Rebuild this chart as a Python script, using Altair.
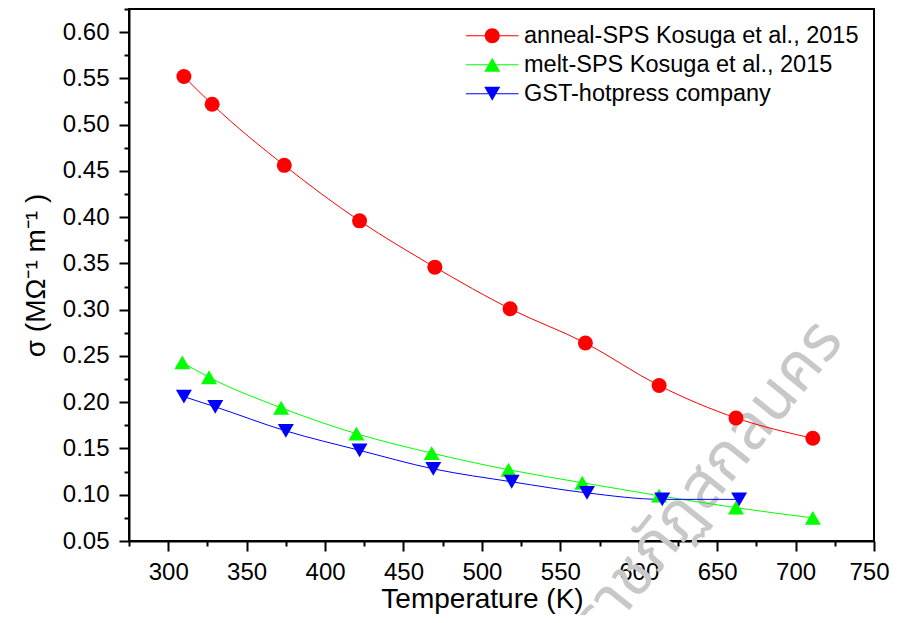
import altair as alt
import pandas as pd

# ---------------- data ----------------
series_names = [
    "anneal-SPS Kosuga et al., 2015",
    "melt-SPS Kosuga et al., 2015",
    "GST-hotpress company",
]
series_colors = ["#FF0000", "#00FF00", "#0000FF"]

anneal_T = [310, 328, 374, 422, 470, 518, 566, 613, 662, 711]
anneal_sigma = [0.552, 0.522, 0.456, 0.396, 0.346, 0.301, 0.264, 0.218, 0.183, 0.161]

melt_T = [309, 326, 372, 420, 468, 517, 564, 613, 662, 711]
melt_sigma = [0.243, 0.227, 0.194, 0.166, 0.145, 0.127, 0.113, 0.099, 0.086, 0.075]

gst_T = [310, 330, 375, 422, 469, 519, 567, 615, 664]
gst_sigma = [0.206, 0.195, 0.169, 0.148, 0.128, 0.114, 0.102, 0.095, 0.095]

x_major_ticks = [300, 350, 400, 450, 500, 550, 600, 650, 700, 750]
x_minor_ticks = [275, 325, 375, 425, 475, 525, 575, 625, 675, 725]
y_major_ticks = [0.05, 0.10, 0.15, 0.20, 0.25, 0.30, 0.35, 0.40, 0.45, 0.50, 0.55, 0.60]
y_minor_ticks = [0.075, 0.125, 0.175, 0.225, 0.275, 0.325, 0.375, 0.425, 0.475, 0.525, 0.575, 0.625]

watermark_text = ["มหาวิทยาลัยราชภัฏสกลนคร"]

rows = []
for name, Ts, ss in zip(series_names, [anneal_T, melt_T, gst_T],
                        [anneal_sigma, melt_sigma, gst_sigma]):
    for t, s in zip(Ts, ss):
        rows.append({"series": name, "T": t, "sigma": s})
df = pd.DataFrame(rows)

FONT = "Liberation Sans"

x_scale = alt.Scale(domain=[275, 750], nice=False, zero=False)
y_scale = alt.Scale(domain=[0.05, 0.625], nice=False, zero=False)
color_scale = alt.Scale(domain=series_names, range=series_colors)

# legend glyphs: marker with a line through it (units: 1 = half the symbol size)
legend_paths = [
    "M-3.5,-0.07H-0.95V0.07H-3.5Z M0.95,-0.07H3.5V0.07H0.95Z "
    "M1,0A1,1,0,1,1,-1,0A1,1,0,1,1,1,0Z",
    "M-3.5,-0.07H-0.55V0.07H-3.5Z M0.55,-0.07H3.5V0.07H0.55Z "
    "M0,-0.924L1.067,0.924L-1.067,0.924Z",
    "M-3.5,-0.07H-0.55V0.07H-3.5Z M0.55,-0.07H3.5V0.07H0.55Z "
    "M0,0.924L1.067,-0.924L-1.067,-0.924Z",
]
point_shapes = ["circle", "triangle-up", "triangle-down"]
point_sizes = [225, 256, 256]

x_major = alt.Axis(
    values=x_major_ticks, orient="bottom", title="Temperature (K)", grid=False,
    tickSize=10, tickWidth=2, domainWidth=2, labelFontSize=24, labelFont=FONT,
    labelPadding=9, labelFlush=True, labelFlushOffset=15, titleFont=FONT,
    titleFontSize=28, titleFontWeight="normal", titleX=353, titleY=66,
    titleBaseline="alphabetic", titleAnchor="middle", labelOverlap=False,
)
y_major = alt.Axis(
    values=y_major_ticks, orient="left", title="σ (MΩ⁻¹ m⁻¹ )", grid=False,
    tickSize=10, tickWidth=2, domainWidth=2, labelFontSize=24, labelFont=FONT,
    labelPadding=10, labelFlush=False, format=".2f", titleFont=FONT,
    titleFontSize=28, titleFontWeight="normal", titlePadding=12, labelOverlap=False,
)
x_minor = alt.Axis(
    values=x_minor_ticks, orient="bottom", title=None, grid=False, labels=False,
    domain=False, tickSize=5, tickWidth=2,
)
y_minor = alt.Axis(
    values=y_minor_ticks, orient="left", title=None, grid=False, labels=False,
    domain=False, tickSize=5, tickWidth=2,
)

layers = []
first = True
for name, col, shp, sz in zip(series_names, series_colors, point_shapes, point_sizes):
    base = alt.Chart(df).transform_filter(alt.datum.series == name)
    layers.append(
        base.mark_line(strokeWidth=1, interpolate="monotone", color=col).encode(
            x=alt.X("T:Q", scale=x_scale, axis=x_major if first else None),
            y=alt.Y("sigma:Q", scale=y_scale, axis=y_major if first else None),
        )
    )
    first = False
for name, col, shp, sz in zip(series_names, series_colors, point_shapes, point_sizes):
    base = alt.Chart(df).transform_filter(alt.datum.series == name)
    layers.append(
        base.mark_point(shape=shp, size=sz, filled=True, opacity=1, strokeWidth=0,
                        color=col).encode(
            x=alt.X("T:Q", scale=x_scale, axis=None),
            y=alt.Y("sigma:Q", scale=y_scale, axis=None),
        )
    )

legend_props = dict(
    orient="none", legendX=351.5, legendY=15, title=None, labelFont=FONT,
    labelFontSize=23.5, labelColor="black", symbolSize=225, symbolOpacity=1,
    symbolStrokeWidth=0, labelOffset=20, rowPadding=4, padding=0, labelLimit=0,
)

legend_layer = alt.Chart(df).mark_point(filled=True, opacity=0).encode(
    x=alt.X("T:Q", scale=x_scale, axis=x_minor),
    y=alt.Y("sigma:Q", scale=y_scale, axis=y_minor),
    color=alt.Color("series:N", scale=color_scale, legend=alt.Legend(**legend_props)),
    shape=alt.Shape("series:N", scale=alt.Scale(domain=series_names, range=legend_paths),
                    legend=alt.Legend(**legend_props)),
)

watermark = alt.Chart(pd.DataFrame({"t": watermark_text})).mark_text(
    angle=308.7, align="right", baseline="alphabetic", fontSize=64,
    color="#c8c8c8", font="Noto Sans Thai, Noto Sans, DejaVu Sans",
).encode(text="t:N", x=alt.value(716), y=alt.value(332))

chart = alt.layer(watermark, *layers, legend_layer).resolve_axis(
    x="independent", y="independent"
).properties(
    width=745, height=532,
    autosize=alt.AutoSizeParams(type="none"),
    padding={"left": 121, "top": 1, "right": 16, "bottom": 74},
).configure_view(
    stroke="black", strokeWidth=2
).configure_axis(
    domainColor="black", tickColor="black", labelColor="black", titleColor="black",
)

chart.save("out.html", embed_options={"renderer": "svg", "actions": False})
